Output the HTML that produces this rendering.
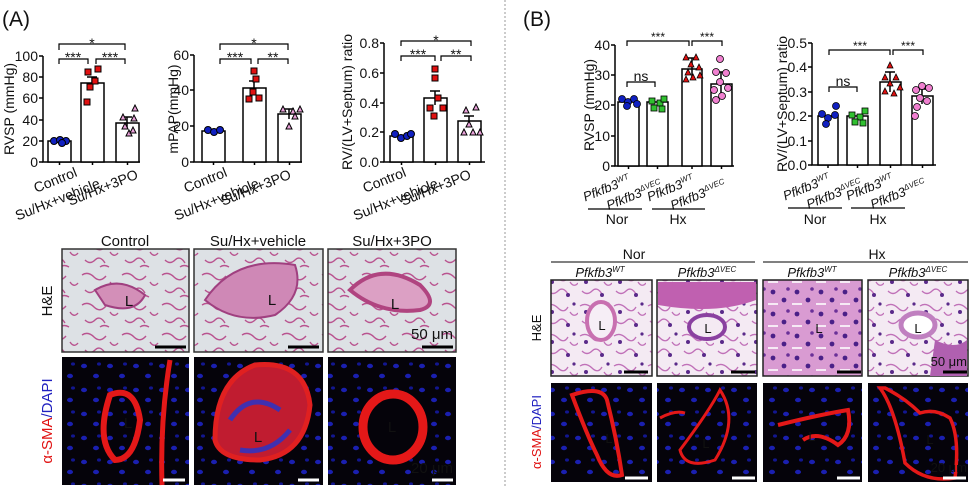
<!DOCTYPE html>
<html><head><meta charset="utf-8"><style>
html,body{margin:0;padding:0;background:#fff}
svg{display:block}
text{font-family:"Liberation Sans",Arial,sans-serif;fill:#111}
</style></head><body>
<svg width="970" height="486" viewBox="0 0 970 486" xmlns="http://www.w3.org/2000/svg">
<defs>
<pattern id="heA" width="40" height="30" patternUnits="userSpaceOnUse">
<rect width="40" height="30" fill="#dde1e5"/>
<path d="M2 5 q6 -4 12 2 t12 -1 M5 20 q5 5 10 0 t10 3 M30 12 q4 6 8 1 M20 27 q4 -3 9 0" stroke="#b9538f" stroke-width="1.4" fill="none"/>
</pattern>
<pattern id="heB" width="34" height="30" patternUnits="userSpaceOnUse">
<rect width="34" height="30" fill="#f4eaf3"/>
<path d="M2 6 q6 -4 12 2 t10 -1 M4 21 q5 5 10 0 t10 3 M26 12 q4 6 8 1" stroke="#c070b8" stroke-width="1.3" fill="none"/>
<circle cx="8" cy="12" r="2" fill="#5a2a8a"/><circle cx="24" cy="25" r="2" fill="#5a2a8a"/><circle cx="30" cy="4" r="1.6" fill="#5a2a8a"/>
</pattern>
<pattern id="heBd" width="24" height="22" patternUnits="userSpaceOnUse">
<rect width="24" height="22" fill="#d99bd2"/>
<circle cx="5" cy="6" r="2.4" fill="#4a2088"/><circle cx="16" cy="14" r="2.4" fill="#4a2088"/><circle cx="20" cy="3" r="1.8" fill="#6a3098"/><path d="M0 18 h10" stroke="#f6eaf5" stroke-width="2"/>
</pattern>
<pattern id="ifp" width="26" height="24" patternUnits="userSpaceOnUse">
<rect width="26" height="24" fill="#05030a"/>
<ellipse cx="6" cy="6" rx="3" ry="2.2" fill="#1a1fb0"/><ellipse cx="18" cy="16" rx="3" ry="2.2" fill="#1a1fb0"/><ellipse cx="21" cy="4" rx="2" ry="1.6" fill="#121690"/>
</pattern>
</defs>

<text x="2" y="26" font-size="21">(A)</text>

<!-- ===== Chart A1 ===== -->
<g stroke="#000" stroke-width="1.5" fill="none">
<path d="M43 56 V162 H140"/>
<path d="M39 56 H43 M39 77 H43 M39 98 H43 M39 120 H43 M39 141 H43 M39 162 H43"/>
<rect x="48" y="141" width="23" height="21" fill="#fff"/>
<rect x="81" y="83" width="23" height="79" fill="#fff"/>
<rect x="116" y="123" width="23" height="39" fill="#fff"/>
<path d="M92 77 V89 M87 77 H97 M127 117 V129 M122 117 H132"/>
<path d="M59 50 V44 H125 V50 M59 64 V59 H88 V64 M96 64 V59 H125 V64" stroke-width="1.2"/>
<path d="M59.5 162 v3 M92.5 162 v3 M127.5 162 v3"/>
</g>
<g font-size="14" text-anchor="end"><text x="38" y="61">100</text><text x="38" y="82">80</text><text x="38" y="103">60</text><text x="38" y="125">40</text><text x="38" y="146">20</text><text x="38" y="167">0</text></g>
<text transform="translate(14 109) rotate(-90)" font-size="14" text-anchor="middle">RVSP (mmHg)</text>
<g>
<circle cx="54" cy="141" r="3.5" fill="#1020c0" stroke="#000"/><circle cx="60" cy="140" r="3.5" fill="#1020c0" stroke="#000"/><circle cx="66" cy="141" r="3.5" fill="#1020c0" stroke="#000"/><circle cx="62" cy="143" r="3.5" fill="#1020c0" stroke="#000"/>
<rect x="85" y="69" width="6" height="6" fill="#e01010" stroke="#000"/><rect x="95" y="66" width="6" height="6" fill="#e01010" stroke="#000"/><rect x="84" y="99" width="6" height="6" fill="#e01010" stroke="#000"/><rect x="92" y="78" width="6" height="6" fill="#e01010" stroke="#000"/><rect x="87" y="84" width="6" height="6" fill="#e01010" stroke="#000"/>
<path d="M132 111 l3 -6 l3 6z M122 129 l3 -6 l3 6z M130 133 l3 -6 l3 6z M120 120 l3 -6 l3 6z M131 121 l3 -6 l3 6z M126 136 l3 -6 l3 6z" fill="#e8a0d8" stroke="#000"/>
</g>
<g font-size="14" text-anchor="middle"><text x="92" y="48">*</text><text x="73" y="62">***</text><text x="110" y="62">***</text></g>
<g font-size="14" text-anchor="end">
<text transform="translate(78 176) rotate(-22)">Control</text>
<text transform="translate(101 187) rotate(-22)">Su/Hx+vehicle</text>
<text transform="translate(139 178) rotate(-22)">Su/Hx+3PO</text>
</g>

<!-- ===== Chart A2 ===== -->
<g stroke="#000" stroke-width="1.5" fill="none">
<path d="M194 55 V162 H302"/>
<path d="M190 55 H194 M190 90 H194 M190 126 H194 M190 162 H194"/>
<rect x="202" y="131" width="23" height="31" fill="#fff"/>
<rect x="243" y="88" width="23" height="74" fill="#fff"/>
<rect x="278" y="114" width="23" height="48" fill="#fff"/>
<path d="M254 81 V95 M249 81 H259 M289 109 V119 M284 109 H294"/>
<path d="M220 50 V44 H288 V50 M220 64 V59 H251 V64 M258 64 V59 H288 V64" stroke-width="1.2"/>
<path d="M213.5 162 v3 M254.5 162 v3 M289.5 162 v3"/>
</g>
<g font-size="14" text-anchor="end"><text x="189" y="60">60</text><text x="189" y="95">40</text><text x="189" y="131">20</text><text x="189" y="167">0</text></g>
<text transform="translate(178 109) rotate(-90)" font-size="14" text-anchor="middle">mPAP(mmHg)</text>
<g>
<circle cx="208" cy="130" r="3.5" fill="#1020c0" stroke="#000"/><circle cx="214" cy="132" r="3.5" fill="#1020c0" stroke="#000"/><circle cx="220" cy="130" r="3.5" fill="#1020c0" stroke="#000"/>
<rect x="251" y="68" width="6" height="6" fill="#e01010" stroke="#000"/><rect x="253" y="76" width="6" height="6" fill="#e01010" stroke="#000"/><rect x="246" y="96" width="6" height="6" fill="#e01010" stroke="#000"/><rect x="256" y="95" width="6" height="6" fill="#e01010" stroke="#000"/><rect x="250" y="89" width="6" height="6" fill="#e01010" stroke="#000"/>
<path d="M280 112 l3 -6 l3 6z M290 114 l3 -6 l3 6z M297 112 l3 -6 l3 6z M286 129 l3 -6 l3 6z M292 119 l3 -6 l3 6z" fill="#e8a0d8" stroke="#000"/>
</g>
<g font-size="14" text-anchor="middle"><text x="254" y="48">*</text><text x="235" y="62">***</text><text x="273" y="62">**</text></g>
<g font-size="14" text-anchor="end">
<text transform="translate(228 176) rotate(-22)">Control</text>
<text transform="translate(260 187) rotate(-22)">Su/Hx+vehicle</text>
<text transform="translate(292 178) rotate(-22)">Su/Hx+3PO</text>
</g>

<!-- ===== Chart A3 ===== -->
<g stroke="#000" stroke-width="1.5" fill="none">
<path d="M384 43 V162 H485"/>
<path d="M380 43 H384 M380 73 H384 M380 103 H384 M380 132 H384 M380 162 H384"/>
<rect x="390" y="136" width="23" height="26" fill="#fff"/>
<rect x="424" y="98" width="23" height="64" fill="#fff"/>
<rect x="458" y="121" width="23" height="41" fill="#fff"/>
<path d="M435 91 V105 M430 91 H440 M469 116 V126 M464 116 H474"/>
<path d="M401 46 V41 H471 V46 M401 61 V56 H435 V61 M441 61 V56 H471 V61" stroke-width="1.2"/>
<path d="M401.5 162 v3 M435.5 162 v3 M469.5 162 v3"/>
</g>
<g font-size="14" text-anchor="end"><text x="379" y="48">0.8</text><text x="379" y="78">0.6</text><text x="379" y="108">0.4</text><text x="379" y="137">0.2</text><text x="379" y="167">0.0</text></g>
<text transform="translate(352 102) rotate(-90)" font-size="14" text-anchor="middle">RV/(LV+Septum) ratio</text>
<g>
<circle cx="395" cy="134" r="3.5" fill="#1020c0" stroke="#000"/><circle cx="401" cy="138" r="3.5" fill="#1020c0" stroke="#000"/><circle cx="407" cy="136" r="3.5" fill="#1020c0" stroke="#000"/><circle cx="411" cy="134" r="3.5" fill="#1020c0" stroke="#000"/>
<rect x="432" y="66" width="6" height="6" fill="#e01010" stroke="#000"/><rect x="432" y="75" width="6" height="6" fill="#e01010" stroke="#000"/><rect x="435" y="95" width="6" height="6" fill="#e01010" stroke="#000"/><rect x="427" y="105" width="6" height="6" fill="#e01010" stroke="#000"/><rect x="440" y="105" width="6" height="6" fill="#e01010" stroke="#000"/><rect x="431" y="113" width="6" height="6" fill="#e01010" stroke="#000"/>
<path d="M463 113 l3 -6 l3 6z M473 110 l3 -6 l3 6z M466 127 l3 -6 l3 6z M461 135 l3 -6 l3 6z M470 135 l3 -6 l3 6z M477 135 l3 -6 l3 6z" fill="#e8a0d8" stroke="#000"/>
</g>
<g font-size="14" text-anchor="middle"><text x="436" y="45">*</text><text x="418" y="59">***</text><text x="456" y="59">**</text></g>
<g font-size="14" text-anchor="end">
<text transform="translate(407 176) rotate(-22)">Control</text>
<text transform="translate(439 187) rotate(-22)">Su/Hx+vehicle</text>
<text transform="translate(472 178) rotate(-22)">Su/Hx+3PO</text>
</g>

<!-- ===== A micrographs ===== -->
<g font-size="15" text-anchor="middle"><text x="125" y="246">Control</text><text x="258" y="246">Su/Hx+vehicle</text><text x="392" y="246">Su/Hx+3PO</text></g>
<text transform="translate(52 301) rotate(-90)" font-size="15" text-anchor="middle">H&amp;E</text>
<text transform="translate(52 421) rotate(-90)" font-size="15" text-anchor="middle"><tspan fill="#e01010">α-SMA</tspan><tspan fill="#2020c0">/DAPI</tspan></text>
<rect x="62" y="249" width="127" height="103" fill="url(#heA)" stroke="#333" stroke-width="1.5"/>
<path d="M95 290 q25 -15 50 5 q-10 20 -40 10z" fill="#d38fb8" stroke="#a04080" stroke-width="2"/>
<rect x="194" y="249" width="129" height="103" fill="url(#heA)" stroke="#333" stroke-width="1.5"/>
<path d="M205 300 q30 -45 90 -35 q10 30 -20 50 q-40 10 -70 -15z" fill="#cf88b6" stroke="#a04080" stroke-width="2"/>
<rect x="328" y="249" width="128" height="103" fill="url(#heA)" stroke="#333" stroke-width="1.5"/>
<path d="M350 290 q30 -30 70 -5 q20 20 0 25 q-40 5 -70 -20z" fill="#dca0c4" stroke="#b04480" stroke-width="4"/>
<g font-size="15" text-anchor="middle"><text x="129" y="306">L</text><text x="272" y="305">L</text><text x="395" y="309">L</text></g>
<g stroke="#000" stroke-width="3"><path d="M155 347 H186 M288 347 H319 M422 347 H453"/></g>
<text x="453" y="339" font-size="15" text-anchor="end">50 μm</text>

<rect x="62" y="357" width="127" height="128" fill="url(#ifp)"/>
<path d="M110 395 q25 -10 30 25 q-5 40 -25 40 q-20 -20 -5 -65z" fill="none" stroke="#e41818" stroke-width="6"/>
<path d="M170 360 q-10 60 -8 125" fill="none" stroke="#e41818" stroke-width="5"/>
<rect x="194" y="357" width="129" height="128" fill="url(#ifp)"/>
<path d="M215 440 q0 -60 40 -75 q50 -5 55 40 q-5 50 -50 55 q-40 0 -45 -20z" fill="#c01c30" stroke="#e02020" stroke-width="5"/>
<path d="M230 420 q20 -30 50 -10 M240 450 q30 5 50 -20" stroke="#4030b0" stroke-width="5" fill="none"/>
<rect x="328" y="357" width="128" height="128" fill="url(#ifp)"/>
<ellipse cx="393" cy="427" rx="30" ry="33" fill="#05030a" stroke="#e41818" stroke-width="9"/>
<g font-size="15" text-anchor="middle"><text x="128" y="428" fill="#fff">L</text><text x="258" y="442" fill="#fff">L</text><text x="392" y="432" fill="#fff">L</text></g>
<g stroke="#fff" stroke-width="3"><path d="M163 480 H185 M298 480 H319 M432 480 H453"/></g>
<text x="453" y="473" font-size="15" text-anchor="end" fill="#fff">20 μm</text>

<path d="M505 0 V486" stroke="#999" stroke-width="1" stroke-dasharray="2 2"/>

<text x="523" y="26" font-size="21">(B)</text>

<!-- Chart B1 -->
<g stroke="#000" stroke-width="1.5" fill="none">
<path d="M615 45 V166 H734"/>
<path d="M611 45 H615 M611 75 H615 M611 105 H615 M611 136 H615 M611 166 H615"/>
<rect x="618" y="102" width="21" height="64" fill="#fff"/>
<rect x="647" y="102" width="21" height="64" fill="#fff"/>
<rect x="682" y="69" width="20" height="97" fill="#fff"/>
<rect x="711" y="84" width="21" height="82" fill="#fff"/>
<path d="M692 58 V80 M687 58 H697 M721 72 V96 M716 72 H726"/>
<path d="M627 46 V41 H689 V46 M692 46 V41 H722 V46 M627 87 V82 H655 V87" stroke-width="1.2"/>
<path d="M628.5 166 v3 M657.5 166 v3 M692 166 v3 M721.5 166 v3"/>
</g>
<g font-size="14" text-anchor="end"><text x="610" y="50">40</text><text x="610" y="80">30</text><text x="610" y="110">20</text><text x="610" y="141">10</text><text x="610" y="171">0</text></g>
<text transform="translate(594 105) rotate(-90)" font-size="14" text-anchor="middle">RVSP (mmHg)</text>
<g stroke="#000" stroke-width="0.8">
<circle cx="622" cy="99" r="3.5" fill="#1020c0"/><circle cx="628" cy="102" r="3.5" fill="#1020c0"/><circle cx="634" cy="99" r="3.5" fill="#1020c0"/><circle cx="627" cy="106" r="3.5" fill="#1020c0"/><circle cx="637" cy="104" r="3.5" fill="#1020c0"/>
<rect x="649" y="98" width="6" height="6" fill="#30c030"/><rect x="657" y="100" width="6" height="6" fill="#30c030"/><rect x="661" y="96" width="6" height="6" fill="#30c030"/><rect x="651" y="105" width="6" height="6" fill="#30c030"/><rect x="659" y="106" width="6" height="6" fill="#30c030"/>
<path d="M683 60 l3 -6 l3 6z M693 60 l3 -6 l3 6z M688 67 l3 -6 l3 6z M696 70 l3 -6 l3 6z M685 75 l3 -6 l3 6z M690 80 l3 -6 l3 6z M697 78 l3 -6 l3 6z M683 82 l3 -6 l3 6z" fill="#e01010"/>
<circle cx="720" cy="59" r="3.5" fill="#f080d0"/><circle cx="716" cy="72" r="3.5" fill="#f080d0"/><circle cx="726" cy="73" r="3.5" fill="#f080d0"/><circle cx="720" cy="82" r="3.5" fill="#f080d0"/><circle cx="714" cy="90" r="3.5" fill="#f080d0"/><circle cx="728" cy="88" r="3.5" fill="#f080d0"/><circle cx="722" cy="96" r="3.5" fill="#f080d0"/><circle cx="716" cy="100" r="3.5" fill="#f080d0"/>
</g>
<g font-size="12" text-anchor="middle"><text x="658" y="41">***</text><text x="707" y="41">***</text><text x="641" y="81" font-size="14">ns</text></g>
<g font-size="13" font-style="italic" text-anchor="end">
<text transform="translate(631 183) rotate(-22)">Pfkfb3<tspan font-size="8" dy="-5">WT</tspan></text>
<text transform="translate(663 188) rotate(-22)">Pfkfb3<tspan font-size="8" dy="-5">ΔVEC</tspan></text>
<text transform="translate(695 183) rotate(-22)">Pfkfb3<tspan font-size="8" dy="-5">WT</tspan></text>
<text transform="translate(727 188) rotate(-22)">Pfkfb3<tspan font-size="8" dy="-5">ΔVEC</tspan></text>
</g>
<path d="M588 209 H642 M652 209 H705" stroke="#000" stroke-width="1.2"/>
<g font-size="14" text-anchor="middle"><text x="617" y="224">Nor</text><text x="678" y="224">Hx</text></g>

<!-- Chart B2 -->
<g stroke="#000" stroke-width="1.5" fill="none">
<path d="M812 43 V165 H936"/>
<path d="M808 43 H812 M808 67 H812 M808 92 H812 M808 116 H812 M808 141 H812 M808 165 H812"/>
<rect x="818" y="116" width="20" height="49" fill="#fff"/>
<rect x="847" y="116" width="21" height="49" fill="#fff"/>
<rect x="880" y="82" width="21" height="83" fill="#fff"/>
<rect x="912" y="96" width="21" height="69" fill="#fff"/>
<path d="M890 72 V92 M885 72 H895 M922 89 V104 M917 89 H927"/>
<path d="M829 55 V50 H890 V55 M893 55 V50 H923 V55 M829 92 V87 H857 V92" stroke-width="1.2"/>
<path d="M828 165 v3 M857.5 165 v3 M890.5 165 v3 M922.5 165 v3"/>
</g>
<g font-size="14" text-anchor="end"><text x="807" y="48">0.5</text><text x="807" y="72">0.4</text><text x="807" y="97">0.3</text><text x="807" y="121">0.2</text><text x="807" y="146">0.1</text><text x="807" y="170">0.0</text></g>
<text transform="translate(787 104) rotate(-90)" font-size="14" text-anchor="middle">RV/(LV+Septum) ratio</text>
<g stroke="#000" stroke-width="0.8">
<circle cx="822" cy="114" r="3.5" fill="#1020c0"/><circle cx="828" cy="118" r="3.5" fill="#1020c0"/><circle cx="835" cy="115" r="3.5" fill="#1020c0"/><circle cx="836" cy="106" r="3.5" fill="#1020c0"/><circle cx="826" cy="124" r="3.5" fill="#1020c0"/>
<rect x="849" y="112" width="6" height="6" fill="#30c030"/><rect x="857" y="114" width="6" height="6" fill="#30c030"/><rect x="862" y="108" width="6" height="6" fill="#30c030"/><rect x="852" y="119" width="6" height="6" fill="#30c030"/><rect x="860" y="120" width="6" height="6" fill="#30c030"/>
<path d="M887 68 l3 -6 l3 6z M882 80 l3 -6 l3 6z M893 80 l3 -6 l3 6z M887 86 l3 -6 l3 6z M897 90 l3 -6 l3 6z M882 94 l3 -6 l3 6z M891 96 l3 -6 l3 6z" fill="#e01010"/>
<circle cx="922" cy="86" r="3.5" fill="#f080d0"/><circle cx="916" cy="90" r="3.5" fill="#f080d0"/><circle cx="929" cy="88" r="3.5" fill="#f080d0"/><circle cx="920" cy="98" r="3.5" fill="#f080d0"/><circle cx="927" cy="101" r="3.5" fill="#f080d0"/><circle cx="917" cy="107" r="3.5" fill="#f080d0"/><circle cx="915" cy="116" r="3.5" fill="#f080d0"/>
</g>
<g font-size="12" text-anchor="middle"><text x="860" y="50">***</text><text x="908" y="50">***</text><text x="843" y="86" font-size="14">ns</text></g>
<g font-size="13" font-style="italic" text-anchor="end">
<text transform="translate(831 182) rotate(-22)">Pfkfb3<tspan font-size="8" dy="-5">WT</tspan></text>
<text transform="translate(863 187) rotate(-22)">Pfkfb3<tspan font-size="8" dy="-5">ΔVEC</tspan></text>
<text transform="translate(894 182) rotate(-22)">Pfkfb3<tspan font-size="8" dy="-5">WT</tspan></text>
<text transform="translate(927 187) rotate(-22)">Pfkfb3<tspan font-size="8" dy="-5">ΔVEC</tspan></text>
</g>
<path d="M788 208 H842 M851 208 H905" stroke="#000" stroke-width="1.2"/>
<g font-size="14" text-anchor="middle"><text x="815" y="224">Nor</text><text x="878" y="224">Hx</text></g>

<!-- B micrographs -->
<g font-size="14" text-anchor="middle"><text x="634" y="259">Nor</text><text x="877" y="259">Hx</text></g>
<path d="M551 262 H755 M763 262 H968" stroke="#000" stroke-width="1"/>
<g font-size="13" font-style="italic" text-anchor="middle">
<text x="600" y="277">Pfkfb3<tspan font-size="8" dy="-5">WT</tspan></text>
<text x="707" y="277">Pfkfb3<tspan font-size="8" dy="-5">ΔVEC</tspan></text>
<text x="812" y="277">Pfkfb3<tspan font-size="8" dy="-5">WT</tspan></text>
<text x="918" y="277">Pfkfb3<tspan font-size="8" dy="-5">ΔVEC</tspan></text>
</g>
<text transform="translate(541 328) rotate(-90)" font-size="13" text-anchor="middle">H&amp;E</text>
<text transform="translate(541 432) rotate(-90)" font-size="13" text-anchor="middle"><tspan fill="#e01010">α-SMA</tspan><tspan fill="#2020c0">/DAPI</tspan></text>
<rect x="551" y="280" width="101" height="96" fill="url(#heB)" stroke="#222" stroke-width="1.5"/>
<ellipse cx="601" cy="321" rx="14" ry="19" fill="#f6eef6" stroke="#c870b0" stroke-width="4"/>
<rect x="657" y="280" width="100" height="96" fill="url(#heB)" stroke="#222" stroke-width="1.5"/>
<path d="M658 282 H756 V300 q-40 15 -98 5z" fill="#c060b0"/>
<ellipse cx="707" cy="327" rx="18" ry="12" fill="#f4eaf3" stroke="#8a40a0" stroke-width="4"/>
<rect x="763" y="280" width="99" height="96" fill="url(#heBd)" stroke="#222" stroke-width="1.5"/>
<rect x="868" y="280" width="100" height="96" fill="url(#heB)" stroke="#222" stroke-width="1.5"/>
<ellipse cx="918" cy="325" rx="17" ry="12" fill="#fff" stroke="#c080c0" stroke-width="5"/>
<path d="M935 340 q20 10 32 0 V376 H930z" fill="#b060b0"/>
<g font-size="13" text-anchor="middle"><text x="602" y="330">L</text><text x="708" y="333">L</text><text x="819" y="333">L</text><text x="918" y="333">L</text></g>
<g stroke="#000" stroke-width="3"><path d="M624 372 H648 M731 372 H755 M837 372 H861 M943 372 H967"/></g>
<text x="967" y="366" font-size="13" text-anchor="end">50 μm</text>

<rect x="551" y="383" width="101" height="99" fill="url(#ifp)"/>
<path d="M572 395 q30 -10 35 5 q10 40 15 75 q-15 5 -25 -20 q-10 -20 -25 -60z" fill="none" stroke="#e41818" stroke-width="4"/>
<rect x="657" y="383" width="100" height="99" fill="url(#ifp)"/>
<path d="M680 450 q30 -40 40 -60 q20 30 -5 70 q-30 10 -35 -10z M660 418 q15 -8 25 -5" fill="none" stroke="#e41818" stroke-width="3"/>
<rect x="763" y="383" width="99" height="99" fill="url(#ifp)"/>
<path d="M778 425 q40 -10 70 -15 q5 25 -10 35 q-20 -15 -35 -5" fill="none" stroke="#e41818" stroke-width="4"/>
<rect x="868" y="383" width="100" height="99" fill="url(#ifp)"/>
<path d="M880 388 q15 20 25 75 q20 20 50 15 q5 -40 -5 -60 q-15 -10 -30 -5 q-15 -15 -35 -25z" fill="none" stroke="#e41818" stroke-width="3.5"/>
<g font-size="13" text-anchor="middle"><text x="609" y="443" fill="#fff">L</text><text x="706" y="448" fill="#fff">L</text><text x="812" y="441" fill="#fff">L</text><text x="930" y="444" fill="#fff">L</text></g>
<g stroke="#fff" stroke-width="3"><path d="M625 478 H648 M732 478 H755 M837 478 H860 M943 478 H966"/></g>
<text x="967" y="472" font-size="13" text-anchor="end" fill="#fff">20 μm</text>
</svg>
</body></html>
